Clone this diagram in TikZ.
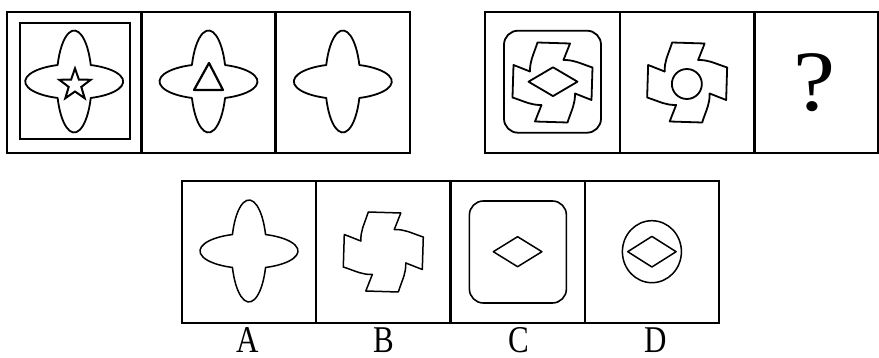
\documentclass[tikz,border=0pt]{standalone}
\usepackage{fontspec}
\setmainfont{Liberation Serif}
\newfontfamily\optfont{Liberation Serif}
\usetikzlibrary{positioning,shapes.geometric}

\tikzset{
  cell/.style={draw,line width=2.4pt,minimum width=134.3pt,minimum height=141pt,
    inner sep=0pt,outer sep=0pt},
  fig/.style={line width=1.8pt,line join=round,line cap=round},
  roundframe/.style={draw,line width=1.8pt,rounded corners=14pt,minimum width=97pt,
    minimum height=102pt,inner sep=0pt},
  optlabel/.style={anchor=base,inner sep=0pt,yscale=1.22,
    font=\optfont\fontsize{31}{31}\selectfont},
}

\begin{document}
\begin{tikzpicture}[x=1pt,y=1pt]
\useasboundingbox (0,0) rectangle (879,-358);
% ---- question row, left group -------------------------------------------
\node[cell] (p1) at (74.2,-82.5) {};
\node[cell,right=0pt of p1] (p2) {};
\node[cell,right=0pt of p2] (p3) {};
% ---- question row, right group ------------------------------------------
\node[cell,minimum width=135pt] (q1) at (552.5,-82.5) {};
\node[cell,right=0pt of q1] (q2) {};
\node[cell,minimum width=124pt,right=0pt of q2] (q3) {};
% ---- the four options ---------------------------------------------------
\node[cell,minimum height=142pt] (optA) at (249,-252) {};
\node[cell,minimum height=142pt,right=0pt of optA] (optB) {};
\node[cell,minimum height=142pt,right=0pt of optB] (optC) {};
\node[cell,minimum height=142pt,right=0pt of optC] (optD) {};

% four-lobed flower: union of two ellipses, traced arc by arc
\foreach \c/\w in {p1/1.8pt,p2/1.8pt,p3/1.8pt,optA/1.5pt}
  \draw[fig,line width=\w,shift={(\c.center)},yshift=1pt]
    (16.56,-16.47) arc[start angle=-70.25,end angle=70.25,x radius=49,y radius=17.5]
    arc[start angle=18.84,end angle=161.16,x radius=17.5,y radius=51]
    arc[start angle=109.75,end angle=250.25,x radius=49,y radius=17.5]
    arc[start angle=198.84,end angle=341.16,x radius=17.5,y radius=51] -- cycle;

% pinwheel: one arm per turn
\foreach \c/\w in {q1/1.8pt,q2/1.8pt,optB/1.5pt}
  \foreach \r in {0,90,180,270}
    \draw[fig,line width=\w,shift={(\c.center)},rotate=-\r]
      (-22.5,11) .. controls (-22.5,22) and (-20,25) .. (-15,40)
      -- (17.5,39) -- (11,22.5);

% inner figures of the first panel set
\node[draw,line width=2.4pt,minimum width=110pt,minimum height=116pt,inner sep=0pt]
  (sq1) at ([shift={(0.8,1.5)}]p1.center) {};
\node[draw,star,star points=5,star point ratio=2.5,line width=2pt,minimum size=33pt,
  inner sep=0pt] (star1) at ([shift={(0.8,-2.4)}]p1.center) {};
\draw[fig,line width=2.2pt,shift={(p2.center)}] (0.5,19.5) -- (-14.5,-7.5) -- (14.5,-7.5) -- cycle;

% inner figures of the second panel set
\node[roundframe] (rf1) at ([yshift=0.8pt]q1.center) {};
\draw[fig,shift={(q1.center)}] (-24,0.8) -- (0.5,15.2) -- (25,0.8) -- (0.5,-13.6) -- cycle;
\draw[fig] ([shift={(-0.3,-1.5)}]q2.center) circle[radius=15];
\node[anchor=base,inner sep=0pt,xscale=1.1,font=\optfont\fontsize{86}{86}\selectfont]
  (qmark) at (814,-110.5) {?};

% option C and D
\node[roundframe,line width=1.6pt] (rf2) at ([xshift=0.3pt]optC.center) {};
\draw[fig,line width=1.5pt,shift={(optC.center)}] (-24.3,0.3) -- (0,15.3) -- (24.3,0.3) -- (0,-14.7) -- cycle;
\draw[fig,line width=1.5pt] ([yshift=0.3pt]optD.center) circle[x radius=29.5,y radius=31];
\draw[fig,line width=1.5pt,shift={(optD.center)}] (-24.2,0.3) -- (0,15.6) -- (24.2,0.3) -- (0,-15) -- cycle;

% option letters
\node[optlabel] (labA) at (248,-352.5) {A};
\node[optlabel] (labB) at (384,-352.5) {B};
\node[optlabel] (labC) at (519,-352.5) {C};
\node[optlabel] (labD) at (656,-352.5) {D};
\end{tikzpicture}
\end{document}
